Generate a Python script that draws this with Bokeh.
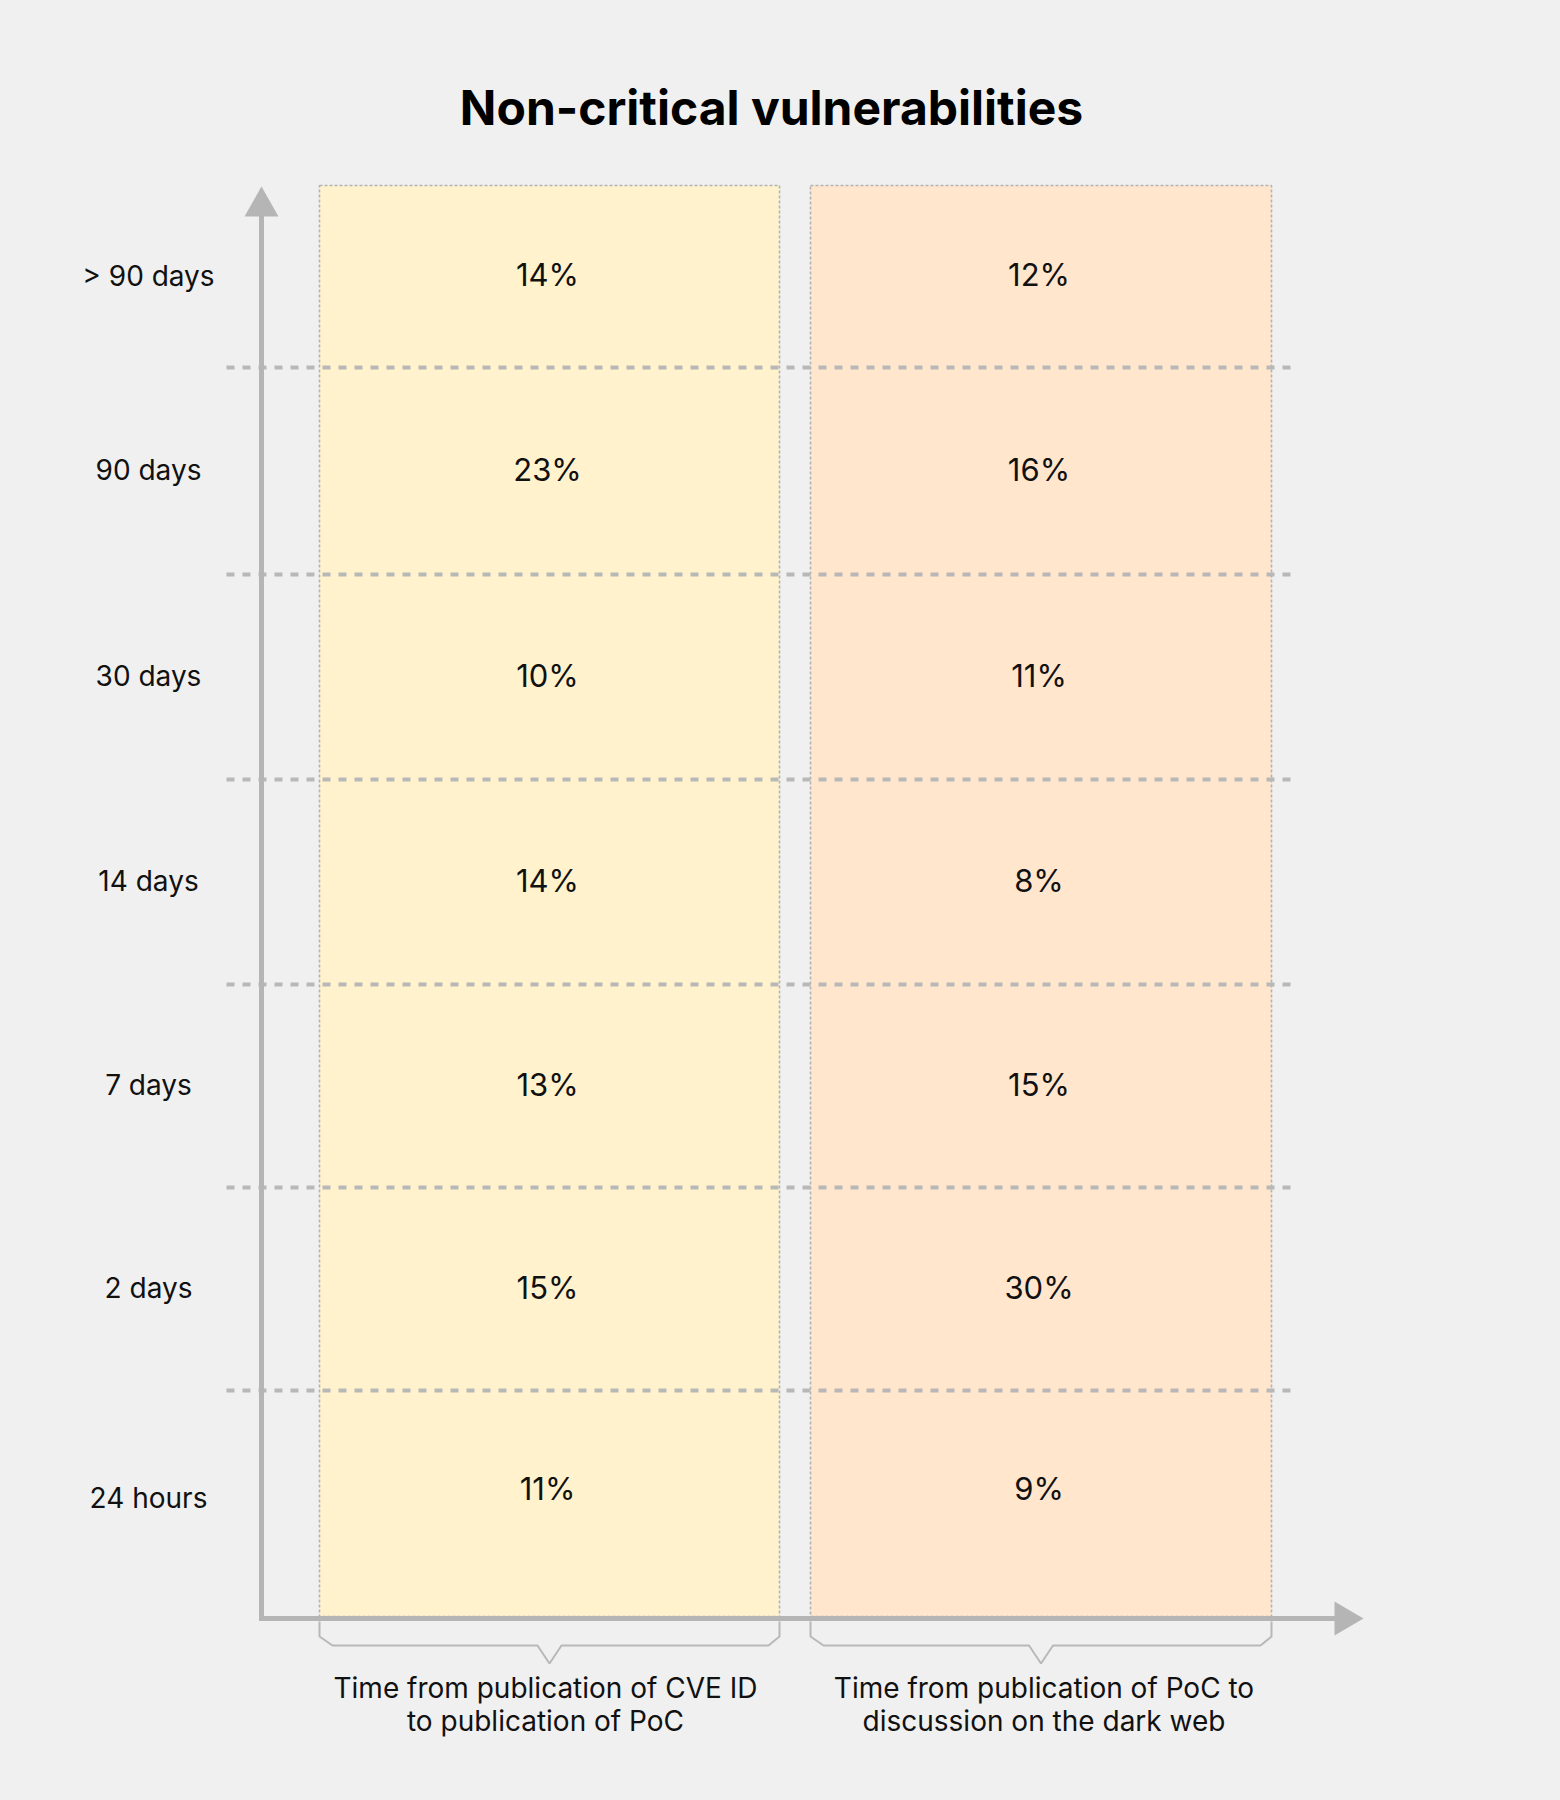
from bokeh.plotting import figure
from bokeh.models import Range1d, GlobalInlineStyleSheet
from bokeh.core.properties import value
from bokeh.embed import file_html
from bokeh.resources import INLINE

# ---------------- data ----------------
title_text = "Non-critical vulnerabilities"
time_buckets = ["> 90 days", "90 days", "30 days", "14 days", "7 days", "2 days", "24 hours"]
cve_to_poc = [14, 23, 10, 14, 13, 15, 11]
poc_to_darkweb = [12, 16, 11, 8, 15, 30, 9]
series_labels = [
    "Time from publication of CVE ID\nto publication of PoC",
    "Time from publication of PoC to\ndiscussion on the dark web",
]

# ---------------- layout (page pixels) ----------------
BG = "#f0f0f0"
AXIS = "#b5b5b5"
row_edges = [185, 367, 574, 779, 984, 1187, 1390, 1616]
col_spans = [(319, 779), (810, 1271)]
col_fills = ["#fff2cd", "#ffe6cd"]
axis_x, axis_y = 261, 1618
font = value("Inter")

p = figure(width=1544, height=1784,
           x_range=Range1d(0, 1544), y_range=Range1d(1784, 0),
           output_backend="svg", toolbar_location=None,
           x_axis_type=None, y_axis_type=None, min_border=0,
           background_fill_color=BG, border_fill_color=BG,
           outline_line_color=None)
p.grid.visible = False
p.stylesheets = [GlobalInlineStyleSheet(css="html, body { background: #f0f0f0; }")]

# columns
p.quad(left=[c[0] for c in col_spans], right=[c[1] for c in col_spans],
       top=[row_edges[0]] * 2, bottom=[row_edges[-1]] * 2,
       fill_color=col_fills, line_color="#b3b3b3", line_width=1.6, line_dash="3 2")

# row separators
inner = row_edges[1:-1]
p.segment(x0=[226] * len(inner), x1=[1294] * len(inner), y0=inner, y1=inner,
          line_color="#b8b8b8", line_width=4, line_dash="8 8", line_cap="butt")

# axes
p.segment(x0=[axis_x, axis_x - 2.5], y0=[axis_y + 2.5, axis_y],
          x1=[axis_x, 1336], y1=[214, axis_y],
          line_color=AXIS, line_width=5)
p.patches(xs=[[axis_x, axis_x - 17, axis_x + 17], [1363, 1334, 1334]],
          ys=[[186, 216, 216], [axis_y, axis_y - 17, axis_y + 17]],
          fill_color=AXIS, line_color=None)

# brackets
for (l, r) in col_spans:
    m = (l + r) / 2
    xs = [l, l, l + 13, m - 12, m, m + 12, r - 11, r, r]
    ys = [1621, 1636, 1645, 1645, 1663, 1645, 1645, 1636, 1621]
    p.line(xs, ys, line_color="#b8b8b8", line_width=2)

# row labels and values (last row's text sits a bit above the axis)
label_edges = row_edges[:-1] + [1606]
value_edges = row_edges[:-1] + [1590]
label_mids = [(label_edges[i] + label_edges[i + 1]) / 2 - 1 for i in range(len(time_buckets))]
value_mids = [(value_edges[i] + value_edges[i + 1]) / 2 - 2 for i in range(len(time_buckets))]

p.text(x=[148] * len(time_buckets), y=label_mids, text=time_buckets,
       text_font=font, text_font_size="28px", text_color="#111111",
       text_align="center", text_baseline="middle")

for (l, r), vals in zip(col_spans, [cve_to_poc, poc_to_darkweb]):
    m = (l + r) / 2
    p.text(x=[m - 2] * len(vals), y=value_mids, text=[f"{v}%" for v in vals],
           text_font=font, text_font_size="31px", text_color="#111111",
           text_align="center", text_baseline="middle")

# series labels under brackets
for (l, r), lab, dx in zip(col_spans, series_labels, [-4, 3]):
    m = (l + r) / 2
    lines = lab.split("\n")
    p.text(x=[m + dx] * len(lines), y=[1687 + 33 * i for i in range(len(lines))], text=lines,
           text_font=font, text_font_size="28px", text_color="#111111",
           text_align="center", text_baseline="middle")

# title
p.text(x=[771], y=[107], text=[title_text], text_font=font, text_font_size="48px",
       text_font_style="bold", text_color="#000000",
       text_align="center", text_baseline="middle")

open("out.html", "w").write(file_html(p, INLINE))
